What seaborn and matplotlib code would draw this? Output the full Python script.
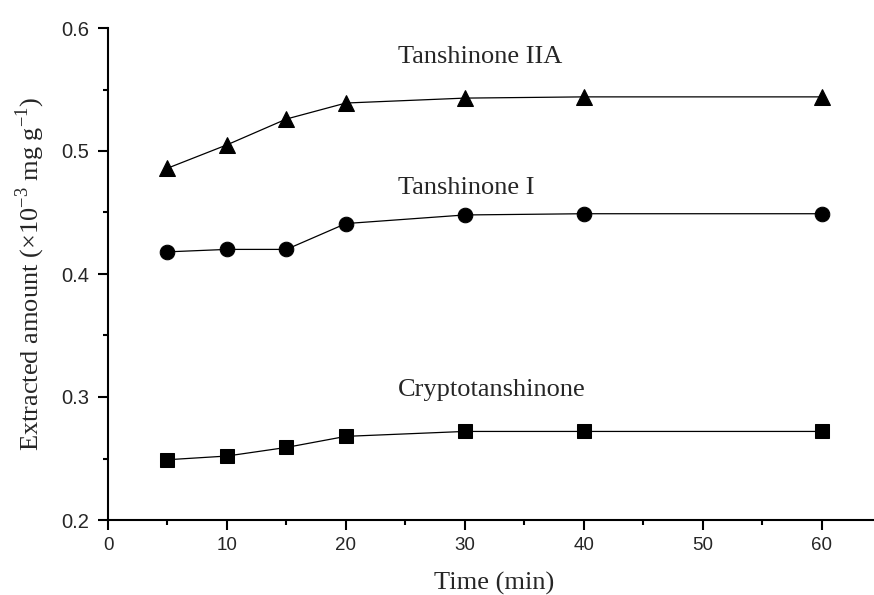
import matplotlib
matplotlib.use("Agg")
import matplotlib.pyplot as plt
import seaborn as sns
import pandas as pd
from matplotlib.ticker import MultipleLocator

time_min = [5, 10, 15, 20, 30, 40, 60]
tanshinone_iia = [0.486, 0.505, 0.526, 0.539, 0.543, 0.544, 0.544]
tanshinone_i = [0.418, 0.420, 0.420, 0.441, 0.448, 0.449, 0.449]
cryptotanshinone = [0.249, 0.252, 0.259, 0.268, 0.272, 0.272, 0.272]

series_names = ["Tanshinone IIA", "Tanshinone I", "Cryptotanshinone"]
series_values = [tanshinone_iia, tanshinone_i, cryptotanshinone]
series_markers = ["^", "o", "s"]
series_msize = [11.5, 10.5, 9.5]

x_ticks = [0, 10, 20, 30, 40, 50, 60]
y_ticks = [0.2, 0.3, 0.4, 0.5, 0.6]

sns.set_theme(style="ticks")
plt.rcParams["font.family"] = ["Liberation Serif", "DejaVu Serif"]
plt.rcParams["mathtext.fontset"] = "custom"
plt.rcParams["mathtext.rm"] = "Liberation Serif"

fig = plt.figure(figsize=(8.74, 5.95), dpi=100)
ax = fig.add_axes([108 / 874, 1 - 520 / 595, 1 - 108 / 874, (520 - 28) / 595])

for name, vals, mk, ms in zip(series_names, series_values, series_markers, series_msize):
    df = pd.DataFrame({"Time": time_min, "Amount": vals})
    sns.lineplot(data=df, x="Time", y="Amount", ax=ax, color="black", linewidth=0.9,
                 marker=mk, markersize=ms, markeredgecolor="black", markerfacecolor="black")

ax.text(31.27, 0.5713, "Tanshinone IIA", ha="center", va="baseline", fontsize=19)
ax.text(30.1, 0.465, "Tanshinone I", ha="center", va="baseline", fontsize=19)
ax.text(32.27, 0.3008, "Cryptotanshinone", ha="center", va="baseline", fontsize=19)

ax.set_xlim(0, 64.4)
ax.set_ylim(0.2, 0.6)
ax.xaxis.set_minor_locator(MultipleLocator(5))
ax.yaxis.set_minor_locator(MultipleLocator(0.05))
ax.set_xticks(x_ticks)
ax.set_xticklabels([str(v) for v in x_ticks], family=["Liberation Sans"], fontsize=13.5)
ax.set_yticks(y_ticks)
ax.set_yticklabels([f"{v:.1f}" for v in y_ticks], family=["Liberation Sans"], fontsize=14.5)
ax.tick_params(which="major", direction="out", length=7.5, width=1.5, color="black")
ax.tick_params(which="minor", direction="out", length=3.8, width=1.5, color="black")
ax.tick_params(axis="x", which="major", pad=4.5)
ax.tick_params(axis="y", which="major", pad=6)

for s in ["top", "right"]:
    ax.spines[s].set_visible(False)
for s in ["left", "bottom"]:
    ax.spines[s].set_linewidth(1.5)
    ax.spines[s].set_color("black")

ax.set_xlabel("Time (min)", fontsize=19)
ax.xaxis.label.set_verticalalignment("center")
ax.xaxis.set_label_coords((494 - 108) / 766, (520 - 583) / 492)
ax.set_ylabel(r"Extracted amount ($\times$10$^{-3}$ mg g$^{-1}$)", fontsize=19)
ax.yaxis.label.set_verticalalignment("center")
ax.yaxis.set_label_coords((30 - 108) / 766, 0.5)

fig.savefig("out.png", dpi=100)
